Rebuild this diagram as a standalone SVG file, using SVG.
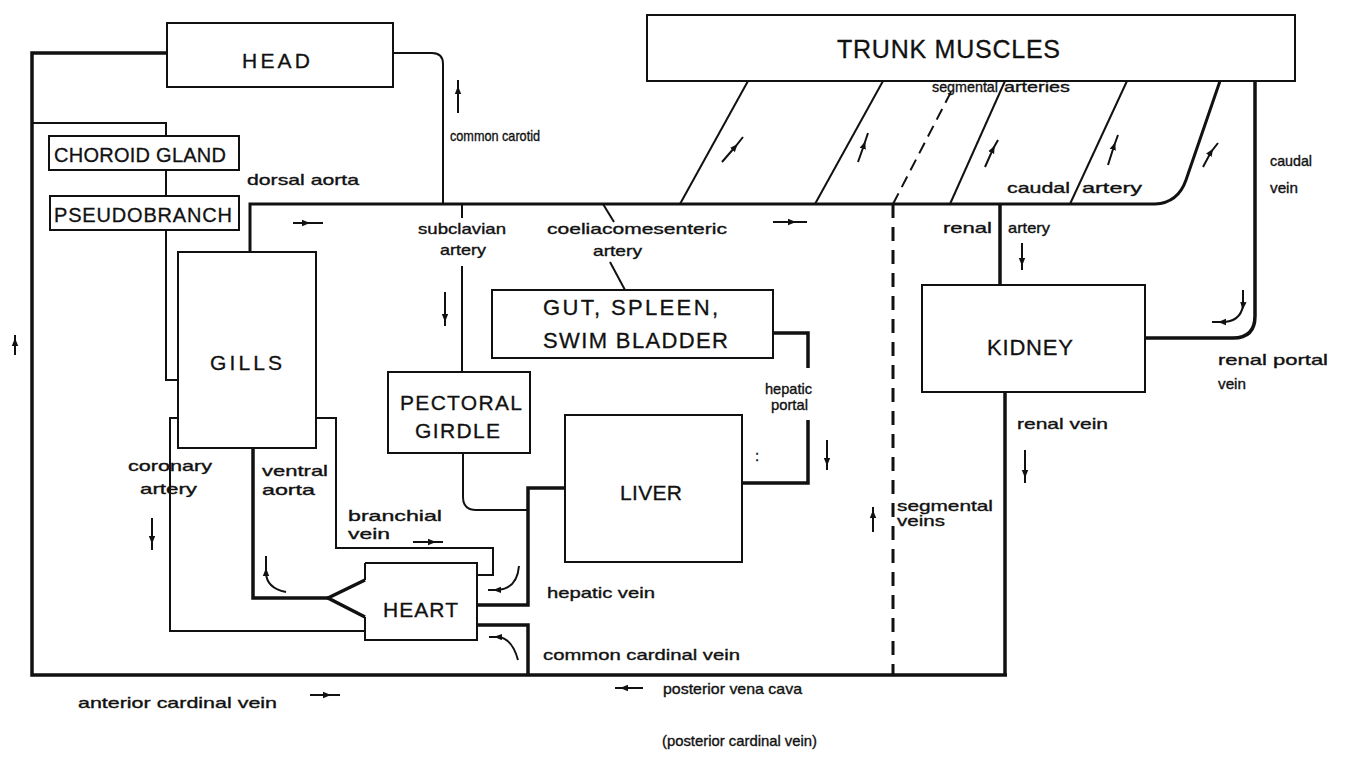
<svg xmlns="http://www.w3.org/2000/svg" width="1349" height="761" viewBox="0 0 1349 761">
<style>
.bg{fill:#fff}
.box{fill:none;stroke:#111;stroke-width:2}
.ln{fill:none;stroke:#111;stroke-width:2}
.tk{fill:none;stroke:#111;stroke-width:3.5}
.dash{fill:none;stroke:#111;stroke-width:3;stroke-dasharray:14 9}
.dash2{fill:none;stroke:#111;stroke-width:2;stroke-dasharray:12 7}
.ar{fill:none;stroke:#111;stroke-width:2;marker-mid:url(#ah)}
.bt{font-family:"Liberation Sans",Arial,sans-serif;font-size:21px;fill:#111;stroke:#111;stroke-width:0.3}
.lt{font-family:"Liberation Sans",Arial,sans-serif;font-size:15px;fill:#111;stroke:#111;stroke-width:0.35}
</style>
<defs>
<marker id="ah" viewBox="0 0 10 10" refX="5" refY="5" markerWidth="8" markerHeight="8" markerUnits="userSpaceOnUse" orient="auto"><path d="M0,1 L10,5 L0,9 z" fill="#111"/></marker>
</defs>
<rect class="bg" x="0" y="0" width="1349" height="761"/>

<g id="connectors">
<!-- anterior cardinal loop / bottom vena cava -->
<path class="tk" d="M167,53 H32 V675 H1007"/>
<!-- common carotid -->
<path class="ln" d="M393,53 H432 Q443,53 443,64 V204"/>
<!-- dorsal aorta to choroid / pseudobranch -->
<path class="ln" d="M32,123 H166 V136"/>
<path class="ln" d="M166,170 V196"/>
<path class="ln" d="M166,230 V380 H178"/>
<!-- dorsal aorta + caudal artery -->
<path class="ln" d="M250,252 V204 H1155 Q1178,203 1186,180 L1220,81" style="stroke-width:3"/>
<!-- segmental arteries -->
<path class="ln" d="M680,204 L748,81"/>
<path class="ln" d="M815,204 L883,81"/>
<path class="dash2" d="M893,204 L952,90"/>
<path class="ln" d="M950,204 L1005,81"/>
<path class="ln" d="M1070,204 L1127,81"/>
<!-- subclavian -->
<path class="ln" d="M462,204 V218"/>
<path class="ln" d="M462,266 V372"/>
<!-- coeliacomesenteric -->
<path class="ln" d="M603,204 L614,222"/>
<path class="ln" d="M610,262 L625,290"/>
<!-- renal artery -->
<path class="tk" d="M1000,204 V285"/>
<!-- segmental veins -->
<path class="dash" d="M893,204 V675"/>
<!-- renal vein -->
<path class="tk" d="M1005,392 V675"/>
<!-- caudal vein / renal portal -->
<path class="tk" d="M1255,81 V316 Q1255,338 1233,338 H1145"/>
<!-- hepatic portal -->
<path class="tk" d="M773,333 H808 V368"/>
<path class="tk" d="M808,420 V483 H742"/>
<!-- hepatic vein -->
<path class="tk" d="M565,488 H528 V605 H477"/>
<!-- common cardinal -->
<path class="tk" d="M477,625 H528 V675"/>
<!-- pectoral vein -->
<path class="ln" d="M463,453 V497 Q463,510 476,510 H528"/>
<!-- branchial vein -->
<path class="ln" d="M316,418 H336 V548 H493 V575 H478"/>
<!-- coronary artery -->
<path class="ln" d="M178,418 H170 V631 H365"/>
<!-- ventral aorta -->
<path class="tk" d="M253,448 V598 H328"/>
<path class="tk" d="M365,580 L328,598 L365,617"/>

<!-- flow arrows -->
<path class="ar" d="M458,113 L458,90 L458,80"/>
<path class="ar" d="M445,292 L445,318 L445,326"/>
<path class="ar" d="M15,355 L15,342 L15,335"/>
<path class="ar" d="M152,518 L152,540 L152,550"/>
<path class="ar" d="M293,223 L306,223 L323,223"/>
<path class="ar" d="M773,222 L792,222 L807,222"/>
<path class="ar" d="M413,542 L432,542 L443,542"/>
<path class="ar" d="M310,695 L327,695 L340,695"/>
<path class="ar" d="M643,688 L624,688 L615,688"/>
<path class="ar" d="M722,162 L735,147 L743,137"/>
<path class="ar" d="M858,162 L864,145 L868,133"/>
<path class="ar" d="M985,167 L993,149 L998,140"/>
<path class="ar" d="M1108,165 L1114,146 L1118,135"/>
<path class="ar" d="M1203,167 L1211,152 L1218,143"/>
<path class="ar" d="M1022,243 L1022,262 L1022,270"/>
<path class="ar" d="M1025,450 L1025,474 L1025,483"/>
<path class="ar" d="M827,440 L827,462 L827,470"/>
<path class="ar" d="M873,532 L873,514 L873,507"/>
<path class="ar" d="M286,592 Q266,588 266,572 L266,556"/>
<path class="ar" d="M519,566 Q517,589 497,590 L488,590"/>
<path class="ar" d="M518,660 Q512,638 498,637 L489,637"/>
<path class="ar" d="M1243,290 L1243,306 Q1240,322 1222,322 L1212,322"/>

<!-- vessel labels -->
<text class="lt" x="450" y="141" textLength="90" lengthAdjust="spacingAndGlyphs">common carotid</text>
<text class="lt" x="247" y="185" textLength="112" lengthAdjust="spacingAndGlyphs">dorsal aorta</text>
<text class="lt" x="418" y="234" textLength="88" lengthAdjust="spacingAndGlyphs">subclavian</text>
<text class="lt" x="440" y="255" textLength="46" lengthAdjust="spacingAndGlyphs">artery</text>
<text class="lt" x="547" y="234" textLength="180" lengthAdjust="spacingAndGlyphs">coeliacomesenteric</text>
<text class="lt" x="593" y="256" textLength="49" lengthAdjust="spacingAndGlyphs">artery</text>
<text class="lt" x="932" y="92" textLength="66" lengthAdjust="spacingAndGlyphs">segmental</text>
<text class="lt" x="1004" y="92" textLength="66" lengthAdjust="spacingAndGlyphs">arteries</text>
<text class="lt" x="1007" y="193" textLength="63" lengthAdjust="spacingAndGlyphs">caudal</text>
<text class="lt" x="1082" y="193" textLength="60" lengthAdjust="spacingAndGlyphs">artery</text>
<text class="lt" x="1270" y="166" textLength="42" lengthAdjust="spacingAndGlyphs">caudal</text>
<text class="lt" x="1270" y="193" textLength="28" lengthAdjust="spacingAndGlyphs">vein</text>
<text class="lt" x="943" y="233" textLength="49" lengthAdjust="spacingAndGlyphs">renal</text>
<text class="lt" x="1008" y="233" textLength="42" lengthAdjust="spacingAndGlyphs">artery</text>
<text class="lt" x="1218" y="365" textLength="110" lengthAdjust="spacingAndGlyphs">renal portal</text>
<text class="lt" x="1218" y="389" textLength="28" lengthAdjust="spacingAndGlyphs">vein</text>
<text class="lt" x="1017" y="429" textLength="91" lengthAdjust="spacingAndGlyphs">renal vein</text>
<text class="lt" x="765" y="394" textLength="47" lengthAdjust="spacingAndGlyphs">hepatic</text>
<text class="lt" x="771" y="410" textLength="37" lengthAdjust="spacingAndGlyphs">portal</text>
<text class="lt" x="755" y="461">:</text>
<text class="lt" x="897" y="511" textLength="96" lengthAdjust="spacingAndGlyphs">segmental</text>
<text class="lt" x="897" y="526" textLength="48" lengthAdjust="spacingAndGlyphs">veins</text>
<text class="lt" x="128" y="471" textLength="84" lengthAdjust="spacingAndGlyphs">coronary</text>
<text class="lt" x="140" y="494" textLength="57" lengthAdjust="spacingAndGlyphs">artery</text>
<text class="lt" x="262" y="476" textLength="66" lengthAdjust="spacingAndGlyphs">ventral</text>
<text class="lt" x="262" y="495" textLength="53" lengthAdjust="spacingAndGlyphs">aorta</text>
<text class="lt" x="348" y="521" textLength="94" lengthAdjust="spacingAndGlyphs">branchial</text>
<text class="lt" x="348" y="539" textLength="42" lengthAdjust="spacingAndGlyphs">vein</text>
<text class="lt" x="547" y="598" textLength="108" lengthAdjust="spacingAndGlyphs">hepatic vein</text>
<text class="lt" x="543" y="660" textLength="197" lengthAdjust="spacingAndGlyphs">common cardinal vein</text>
<text class="lt" x="663" y="694" textLength="139" lengthAdjust="spacingAndGlyphs">posterior vena cava</text>
<text class="lt" x="662" y="746" textLength="155" lengthAdjust="spacingAndGlyphs">(posterior cardinal vein)</text>
<text class="lt" x="78" y="708" textLength="199" lengthAdjust="spacingAndGlyphs">anterior cardinal vein</text>
</g>

<g id="head"><rect class="box" x="167" y="23" width="226" height="64"/><text class="bt" x="242" y="68" textLength="68">HEAD</text></g>
<g id="trunk-muscles"><rect class="box" x="647" y="15" width="648" height="66"/><text class="bt" x="837" y="58" style="font-size:25px" textLength="223">TRUNK MUSCLES</text></g>
<g id="choroid-gland"><rect class="box" x="49" y="136" width="190" height="34"/><text class="bt" x="54" y="162" style="font-size:20px" textLength="172">CHOROID GLAND</text></g>
<g id="pseudobranch"><rect class="box" x="50" y="196" width="189" height="34"/><text class="bt" x="54" y="222" style="font-size:20px" textLength="178">PSEUDOBRANCH</text></g>
<g id="gills"><rect class="box" x="178" y="252" width="138" height="196"/><text class="bt" x="210" y="370" textLength="72">GILLS</text></g>
<g id="pectoral-girdle"><rect class="box" x="388" y="372" width="142" height="81"/><text class="bt" x="400" y="410" textLength="122">PECTORAL</text><text class="bt" x="415" y="438" textLength="85">GIRDLE</text></g>
<g id="gut"><rect class="box" x="492" y="290" width="281" height="68"/><text class="bt" x="543" y="315" style="font-size:22px" textLength="175">GUT, SPLEEN,</text><text class="bt" x="543" y="348" style="font-size:22px" textLength="185">SWIM BLADDER</text></g>
<g id="liver"><rect class="box" x="565" y="415" width="177" height="147"/><text class="bt" x="620" y="500" textLength="62">LIVER</text></g>
<g id="heart"><path class="box" d="M365,563 H477 V640 H365 V617 M365,580 V563"/><text class="bt" x="383" y="617" textLength="75">HEART</text></g>
<g id="kidney"><rect class="box" x="922" y="285" width="223" height="107"/><text class="bt" x="987" y="355" style="font-size:22px" textLength="86">KIDNEY</text></g>
</svg>
